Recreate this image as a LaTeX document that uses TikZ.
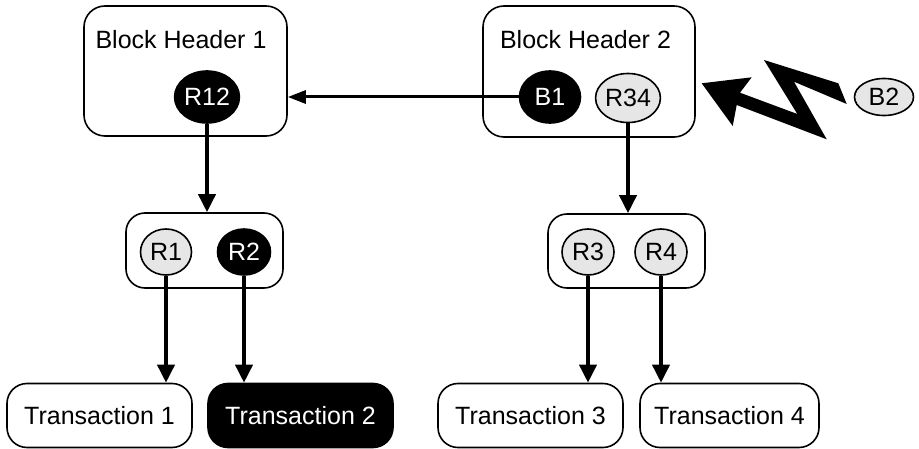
\documentclass[tikz,border=0pt]{standalone}
\usepackage{fontspec}
\setmainfont{Liberation Sans}
\usetikzlibrary{arrows.meta,shapes.geometric}
\definecolor{lgray}{HTML}{E6E6E6}
\begin{document}
\begin{tikzpicture}[x=1pt,y=-1pt,
  every node/.style={font=\fontsize{25pt}{30pt}\selectfont},
  rbox/.style={draw=black,line width=1.6pt,rounded corners=21pt,inner sep=0pt},
  oval/.style={ellipse,draw=black,line width=1.6pt,inner sep=0pt},
  dark/.style={oval,fill=black,text=white},
  light/.style={oval,fill=lgray,text=black},
  conn/.style={line width=3.8pt,-{Triangle[length=18pt,width=17pt]}},
  label/.style={inner sep=0pt}
]
\useasboundingbox (0,0) rectangle (919,449);
% block headers
\node[rbox,minimum width=203pt,minimum height=130pt] (bh1) at (185.5,71) {};
\node[label] (title1) at (181,40) {Block Header 1};
\node[rbox,minimum width=212pt,minimum height=131pt] (bh2) at (589,71.5) {};
\node[label] (title2) at (585.5,40) {Block Header 2};
% middle boxes
\node[rbox,rounded corners=19pt,minimum width=157pt,minimum height=75pt] (m1) at (204.5,250.5) {};
\node[rbox,rounded corners=19pt,minimum width=157pt,minimum height=74pt] (m2) at (626.5,251) {};
% transactions
\node[rbox,rounded corners=20pt,minimum width=185pt,minimum height=64pt] (t1) at (99.5,415.5) {Transaction 1};
\node[rbox,rounded corners=20pt,fill=black,text=white,minimum width=185pt,minimum height=64pt] (t2) at (300.5,415.5) {Transaction 2};
\node[rbox,rounded corners=20pt,minimum width=185pt,minimum height=64pt] (t3) at (530.5,415.5) {Transaction 3};
\node[rbox,rounded corners=20pt,minimum width=179pt,minimum height=64pt] (t4) at (729.5,415.5) {Transaction 4};
% ovals
\node[dark,minimum width=61pt,minimum height=52pt] (r12) at (207,97) {R12};
\node[dark,minimum width=61pt,minimum height=52pt] (b1) at (550,97) {B1};
\node[light,minimum width=61pt,minimum height=49pt] (r34) at (628,98) {R34};
\node[light,minimum width=59pt,minimum height=37pt] (b2) at (884,97) {B2};
\node[light,minimum width=51pt,minimum height=46pt] (r1) at (166,252) {R1};
\node[dark,minimum width=53pt,minimum height=46pt] (r2) at (244,252) {R2};
\node[light,minimum width=52pt,minimum height=46pt] (r3) at (588,252) {R3};
\node[light,minimum width=52pt,minimum height=46pt] (r4) at (661,252) {R4};
% connectors
\draw[line width=3pt,-{Triangle[length=18pt,width=13pt]}] (b1.west) -- (b1.west -| bh1.east);
\draw[conn] (r12.south) -- (r12.south |- m1.north);
\draw[conn] (r34.south) -- (r34.south |- m2.north);
\draw[conn] (r1.south) -- (r1.south |- t1.north);
\draw[conn] (r2.south) -- (r2.south |- t2.north);
\draw[conn] (r3.south) -- (r3.south |- t3.north);
\draw[conn] (r4.south) -- (r4.south |- t4.north);
% lightning bolt
\fill[black] (701.7,83.3) -- (751.7,77.3) -- (740,92.7) -- (797.3,114) -- (764,60)
  -- (838.3,83.3) -- (846.7,104) -- (794,81.7) -- (826.7,139.3) -- (736.7,105)
  -- (732.7,126) -- cycle;
\end{tikzpicture}
\end{document}
